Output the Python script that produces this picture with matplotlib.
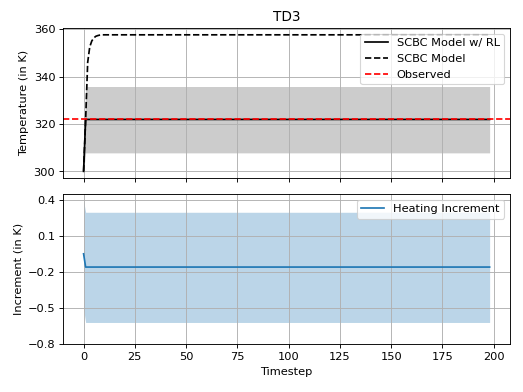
import numpy as np
import matplotlib
matplotlib.use("Agg")
import matplotlib.pyplot as plt

# ---- data ----
timesteps = np.arange(199)
# SCBC Model w/ RL temperature (K)
rl_start = [300.0]
rl_level = 321.9
rl_temp = np.array(rl_start + [rl_level] * 198)
# band (mean +/- spread) for RL temperature
rl_band_lo = np.array([300.0] + [307.8] * 198)
rl_band_hi = np.array([300.0] + [335.8] * 198)
# SCBC Model temperature (K)
scbc_start = [300.0, 321.9, 346.0, 352.5, 355.0, 356.3, 357.0, 357.3, 357.5]
scbc_level = 357.6
scbc_temp = np.array(scbc_start + [scbc_level] * (199 - len(scbc_start)))
observed = 321.9
# Heating increment (K)
inc_start = [-0.05]
inc_level = -0.16
increment = np.array(inc_start + [inc_level] * 198)
inc_band_lo = np.array([-0.51] + [-0.62] * 198)
inc_band_hi = np.array([0.39] + [0.295] * 198)
inc_ticks = [0.4, 0.1, -0.2, -0.5, -0.8]

fig, (ax1, ax2) = plt.subplots(2, 1, sharex=True, figsize=(6.4, 4.8), dpi=523 / 6.4)
fig.subplots_adjust(left=0.121, right=0.975, top=0.928, bottom=0.122, hspace=0.105)

ax1.fill_between(timesteps, rl_band_lo, rl_band_hi, color='gray', alpha=0.4, linewidth=0)
ax1.plot(timesteps, rl_temp, color='black', label='SCBC Model w/ RL')
ax1.plot(timesteps, scbc_temp, color='black', linestyle='--', label='SCBC Model')
ax1.axhline(observed, color='red', linestyle='--', label='Observed')
ax1.set_ylabel('Temperature (in K)')
ax1.set_title('TD3')
ax1.grid(True)
ax1.legend(loc='upper right')

ax2.fill_between(timesteps, inc_band_lo, inc_band_hi, color='C0', alpha=0.3, linewidth=0)
ax2.plot(timesteps, increment, color='C0', label='Heating Increment')
ax2.set_ylim(-0.8, 0.447)
ax2.set_yticks(inc_ticks)
ax2.set_ylabel('Increment (in K)')
ax2.set_xlabel('Timestep')
ax2.grid(True)
ax2.legend(loc='upper right')

fig.savefig('out.png', dpi=523 / 6.4)
